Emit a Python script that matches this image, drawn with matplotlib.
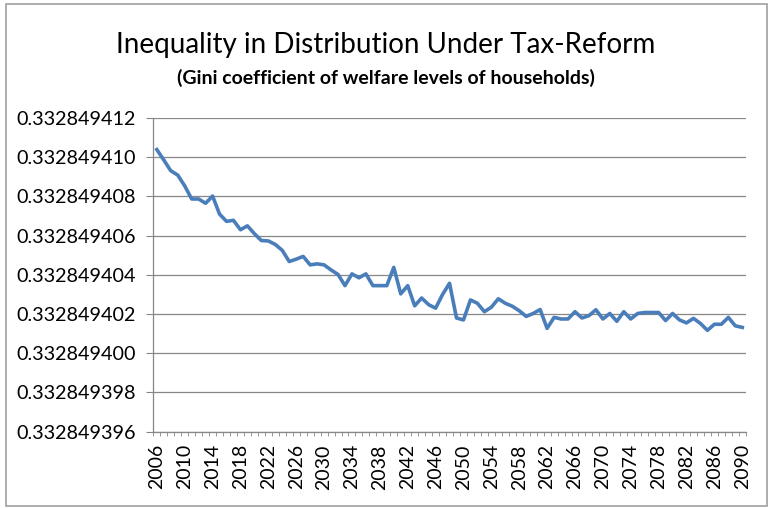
import matplotlib
matplotlib.use("Agg")
import matplotlib.pyplot as plt
from matplotlib.ticker import FixedLocator, FormatStrFormatter
from matplotlib.patches import Rectangle

# Gini coefficient by year
years = list(range(2006, 2091))
gini = [
    0.33284941039, 0.33284940986, 0.33284940931, 0.33284940909, 0.33284940854,
    0.33284940787, 0.33284940787, 0.33284940765, 0.33284940802, 0.33284940710,
    0.33284940673, 0.33284940678, 0.33284940630, 0.33284940650, 0.33284940610,
    0.33284940575, 0.33284940573, 0.33284940555, 0.33284940525, 0.33284940468,
    0.33284940480, 0.33284940494, 0.33284940451, 0.33284940456, 0.33284940451,
    0.33284940425, 0.33284940402, 0.33284940345, 0.33284940405, 0.33284940385,
    0.33284940405, 0.33284940345, 0.33284940345, 0.33284940345, 0.33284940438,
    0.33284940303, 0.33284940345, 0.33284940242, 0.33284940282, 0.33284940248,
    0.33284940230, 0.33284940300, 0.33284940357, 0.33284940180, 0.33284940170,
    0.33284940272, 0.33284940255, 0.33284940212, 0.33284940235, 0.33284940278,
    0.33284940255, 0.33284940240, 0.33284940217, 0.33284940188, 0.33284940203,
    0.33284940223, 0.33284940127, 0.33284940183, 0.33284940175, 0.33284940175,
    0.33284940212, 0.33284940180, 0.33284940192, 0.33284940222, 0.33284940175,
    0.33284940203, 0.33284940163, 0.33284940212, 0.33284940175, 0.33284940203,
    0.33284940208, 0.33284940208, 0.33284940208, 0.33284940167, 0.33284940203,
    0.33284940170, 0.33284940155, 0.33284940178, 0.33284940152, 0.33284940117,
    0.33284940148, 0.33284940148, 0.33284940183, 0.33284940140, 0.33284940132,
]
yticks = [0.332849396, 0.332849398, 0.332849400, 0.332849402,
          0.332849404, 0.332849406, 0.332849408, 0.332849410, 0.332849412]

title = "Inequality in Distribution Under Tax-Reform"
subtitle = "(Gini coefficient of welfare levels of households)"

plt.rcParams['font.family'] = ['Lato', 'DejaVu Sans']
grey = '#878787'

fig = plt.figure(figsize=(7.72, 5.08), dpi=100)
ax = fig.add_axes([0.1986, 0.1502, 0.7674, 0.6175])

x = list(range(len(years)))
ax.plot(x, gini, color='#4A7EBB', lw=2.6, solid_joinstyle='round')

ax.set_ylim(yticks[0], yticks[-1])
ax.yaxis.set_major_locator(FixedLocator(yticks))
ax.yaxis.set_major_formatter(FormatStrFormatter('%.9f'))
ax.grid(axis='y', color=grey, lw=0.9)
ax.set_axisbelow(True)

ax.set_xlim(-0.5, len(years) - 0.5)
lab_pos = x[::4]
ax.set_xticks(lab_pos)
ax.set_xticklabels([str(years[i]) for i in lab_pos], rotation=90)
ax.set_xticks([i - 0.5 for i in range(len(years) + 1)], minor=True)
ax.tick_params(axis='x', which='major', length=0, pad=9, labelsize=14)
ax.tick_params(axis='x', which='minor', length=2.6, color=grey)
ax.tick_params(axis='y', length=4.7, pad=8, color=grey, labelsize=14.2)

for s in ['top', 'right']:
    ax.spines[s].set_visible(False)
for s in ['left', 'bottom']:
    ax.spines[s].set_color(grey)
    ax.spines[s].set_linewidth(0.9)

fig.text(0.5, 0.911, title, ha='center', va='center', fontsize=20)
fig.text(0.5, 0.847, subtitle, ha='center', va='center', fontsize=14, fontweight='bold')

fig.patches.append(Rectangle((0.008, 0.004), 0.985, 0.988, transform=fig.transFigure,
                             fill=False, edgecolor='#A0A0A0', lw=1.2))

fig.savefig('out.png', dpi=100)
